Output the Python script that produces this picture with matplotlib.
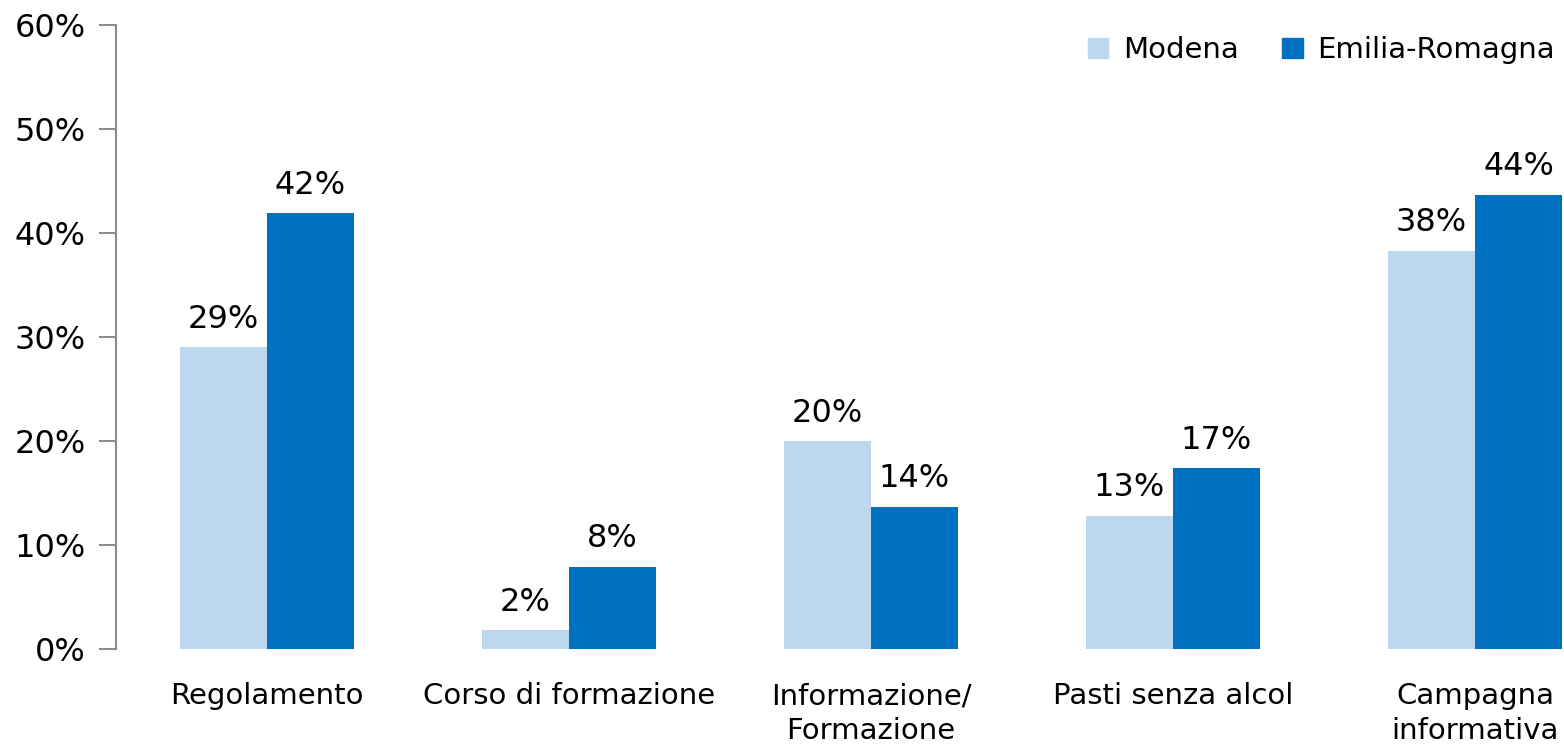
import numpy as np
import matplotlib.pyplot as plt
from matplotlib.patches import Patch

# Data
categories = ["Regolamento", "Corso di formazione", "Informazione/\nFormazione",
              "Pasti senza alcol", "Campagna\ninformativa"]
modena = [29.0, 1.8, 20.0, 12.8, 38.3]
emilia = [41.9, 7.9, 13.7, 17.4, 43.7]
series_names = ["Modena", "Emilia-Romagna"]

COL_MO = "#BDD7EE"
COL_ER = "#0070C0"
FS = 21      # category labels, legend
FS_PCT = 23  # percent texts

fig = plt.figure(figsize=(15.64, 7.46), dpi=100)
# axes runs past the right edge, like the cropped original
ax = fig.add_axes([116/1564, 1 - 649/746, 1510/1564, 624/746])

x = np.arange(len(categories))
w = 0.288
b1 = ax.bar(x - w/2, modena, w, color=COL_MO, zorder=2)
b2 = ax.bar(x + w/2, emilia, w, color=COL_ER, zorder=2)

for bars, vals in [(b1, modena), (b2, emilia)]:
    for r, v in zip(bars, vals):
        ax.text(r.get_x() + r.get_width()/2, v + 1.2, "%d%%" % round(v),
                ha="center", va="bottom", fontsize=FS_PCT, color="black")

ax.set_xlim(-0.5, 4.5)
ax.set_ylim(0, 60)
ax.set_yticks(np.arange(0, 61, 10))
ax.set_yticklabels(["%d%%" % t for t in range(0, 61, 10)], fontsize=FS_PCT)
ax.set_xticks(x)
ax.set_xticklabels(categories, fontsize=FS, linespacing=1.3)
ax.tick_params(axis="x", length=0, pad=24)
ax.tick_params(axis="y", length=12, width=1.5, color="#8c8c8c", pad=10)

for s in ["top", "right", "bottom"]:
    ax.spines[s].set_visible(False)
ax.spines["left"].set_color("#8c8c8c")
ax.spines["left"].set_linewidth(1.5)

handles = [Patch(color=COL_MO), Patch(color=COL_ER)]
fig.legend(handles, series_names, loc="upper right", bbox_to_anchor=(1.011, 0.987),
           ncol=2, frameon=False, fontsize=FS, handlelength=0.7, handleheight=0.7,
           handletextpad=0.5, columnspacing=1.5)

fig.savefig("out.png", dpi=100)
